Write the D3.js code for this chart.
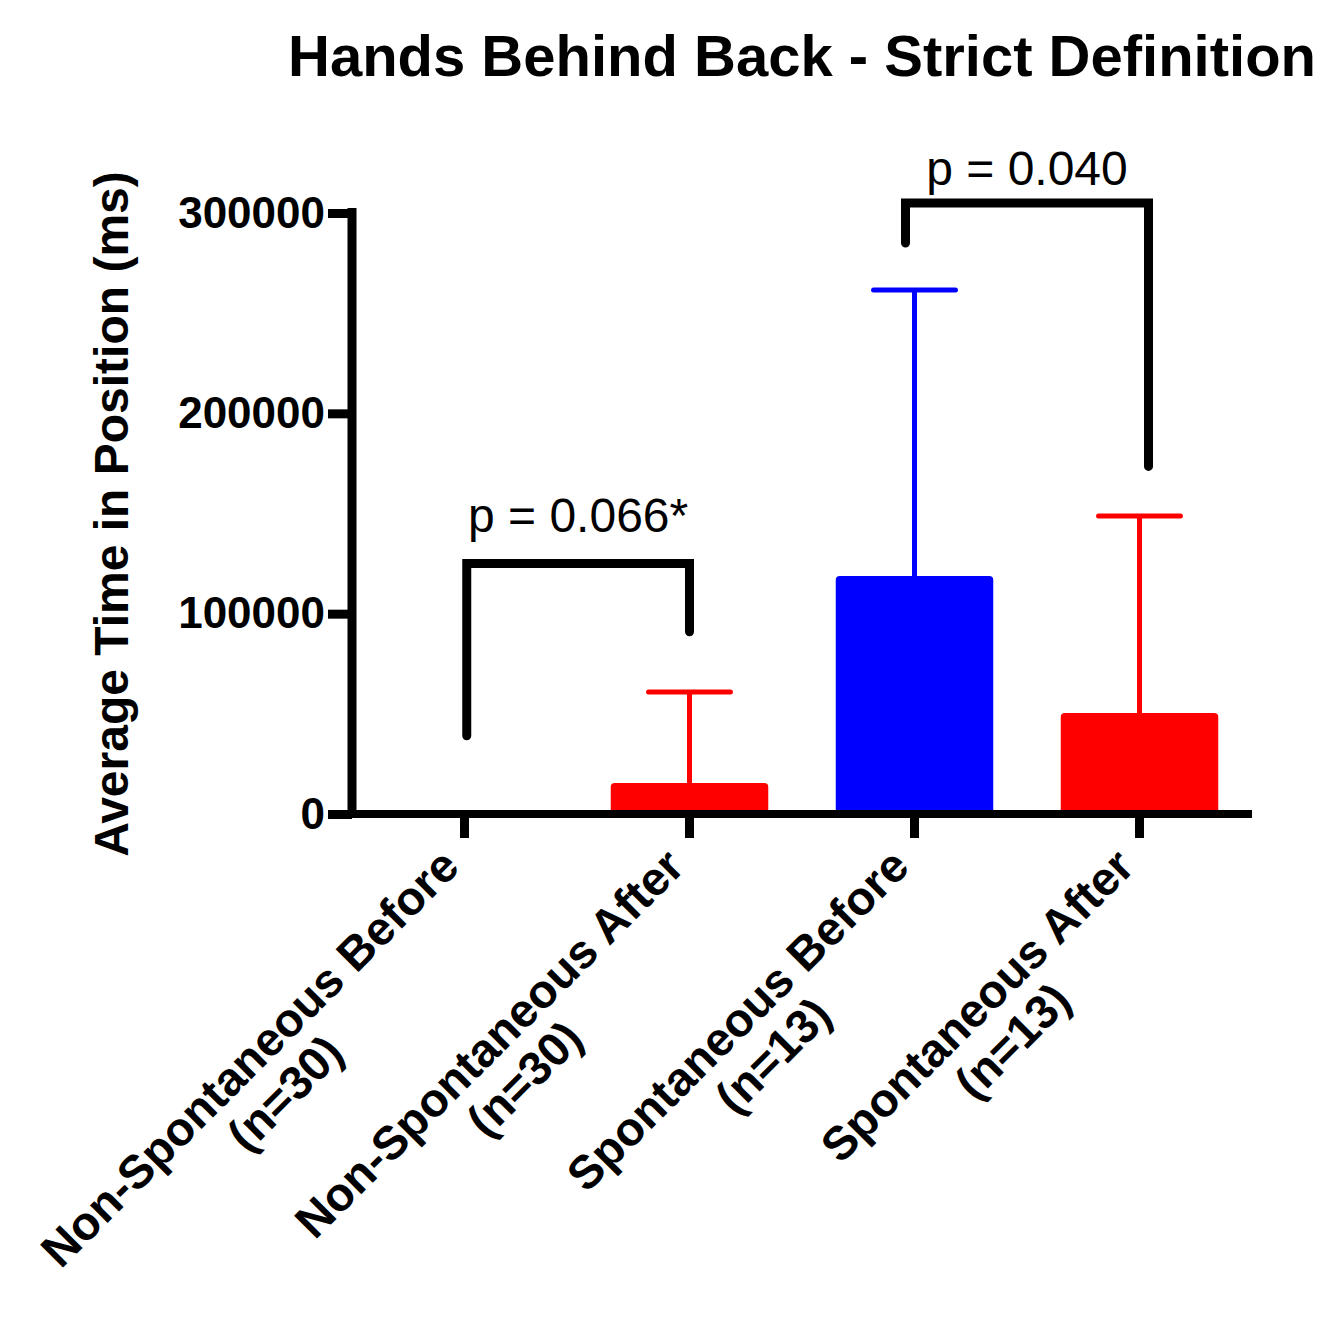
<!DOCTYPE html>
<html>
<head>
<meta charset="utf-8">
<script src="https://cdn.jsdelivr.net/npm/d3@7"></script>
<style>
  body { margin: 0; background: #fff; }
  text { font-family: "Liberation Sans", Arial, Helvetica, sans-serif; }
</style>
</head>
<body>
<script>
// Groups, means and error (SEM)
var groups = ["Non-Spontaneous Before", "Non-Spontaneous After", "Spontaneous Before", "Spontaneous After"];
var groupN = ["(n=30)", "(n=30)", "(n=13)", "(n=13)"];
var means = [0, 15500, 118800, 50400];
var errors = [0, 45400, 142800, 98400];
var barColors = ["#ff0000", "#ff0000", "#0000ff", "#ff0000"];
var yTicks = [0, 100000, 200000, 300000];

// Significance brackets: from/to as group index (fractional), heights in data units
var brackets = [
    { from: 0.01, to: 1.0, top: 125000, leftEnd: 39000, rightEnd: 91000, labelAt: 140800, label: "p = 0.066*" },
    { from: 1.96, to: 3.04, top: 305000, leftEnd: 285000, rightEnd: 173500, labelAt: 314000, label: "p = 0.040" }
];

var width = 1342, height = 1334;
var svg = d3.select("body").append("svg")
    .attr("width", width)
    .attr("height", height);

var x = d3.scaleBand().domain(groups).range([352, 1252]).padding(0);
var xi = d3.scaleLinear().domain([0, 3]).range([x(groups[0]) + x.bandwidth() / 2, x(groups[3]) + x.bandwidth() / 2]);
var y = d3.scaleLinear().domain([0, 300000]).range([814, 213]);

var barW = x.bandwidth() * 0.70;
var capW = barW * 0.52;

// Title
svg.append("text")
    .attr("x", 802)
    .attr("y", 76)
    .attr("text-anchor", "middle")
    .attr("font-size", 58)
    .attr("font-weight", "bold")
    .text("Hands Behind Back - Strict Definition");

// Y axis label
svg.append("text")
    .attr("transform", "translate(128,514) rotate(-90)")
    .attr("text-anchor", "middle")
    .attr("font-size", 48)
    .attr("font-weight", "bold")
    .text("Average Time in Position (ms)");

// Error bars (drawn first so bar covers stem bottom)
var err = svg.selectAll(".err")
    .data(groups.filter(function(d, i){ return errors[i] > 0; }))
    .enter()
    .append("g")
    .attr("class", "err");

err.append("line")
    .attr("x1", function(d){ return x(d) + x.bandwidth() / 2; })
    .attr("x2", function(d){ return x(d) + x.bandwidth() / 2; })
    .attr("y1", function(d){ var i = groups.indexOf(d); return y(means[i]); })
    .attr("y2", function(d){ var i = groups.indexOf(d); return y(means[i] + errors[i]); })
    .attr("stroke", function(d){ return barColors[groups.indexOf(d)]; })
    .attr("stroke-width", 5);

err.append("line")
    .attr("x1", function(d){ return x(d) + x.bandwidth() / 2 - capW / 2; })
    .attr("x2", function(d){ return x(d) + x.bandwidth() / 2 + capW / 2; })
    .attr("y1", function(d){ var i = groups.indexOf(d); return y(means[i] + errors[i]); })
    .attr("y2", function(d){ var i = groups.indexOf(d); return y(means[i] + errors[i]); })
    .attr("stroke", function(d){ return barColors[groups.indexOf(d)]; })
    .attr("stroke-width", 5)
    .attr("stroke-linecap", "round");

// Bars
svg.selectAll(".bar")
    .data(groups)
    .enter()
    .append("rect")
    .attr("class", "bar")
    .attr("x", function(d){ return x(d) + (x.bandwidth() - barW) / 2; })
    .attr("width", barW)
    .attr("y", function(d, i){ return y(means[i]); })
    .attr("height", function(d, i){ return Math.max(0, y(0) - y(means[i]) + 2); })
    .attr("rx", 4)
    .attr("fill", function(d, i){ return barColors[i]; });

// Y axis
var yAxis = svg.append("g")
    .attr("transform", "translate(352,0)")
    .call(d3.axisLeft(y).tickValues(yTicks).tickSize(24).tickPadding(3).tickFormat(d3.format("d")));
yAxis.select(".domain").remove();
yAxis.selectAll(".tick line").attr("stroke", "#000").attr("stroke-width", 9);
yAxis.selectAll(".tick text")
    .attr("font-size", 44)
    .attr("font-weight", "bold")
    .attr("fill", "#000")
    .attr("font-family", "Liberation Sans, Arial, sans-serif");
svg.append("line")
    .attr("x1", 352).attr("x2", 352)
    .attr("y1", y(300000) - 5).attr("y2", y(0) + 4)
    .attr("stroke", "#000").attr("stroke-width", 9);

// X axis
var xAxis = svg.append("g")
    .attr("transform", "translate(0," + y(0) + ")")
    .call(d3.axisBottom(x).tickSize(24).tickFormat(""));
xAxis.select(".domain").remove();
xAxis.selectAll(".tick line").attr("stroke", "#000").attr("stroke-width", 9);
svg.append("line")
    .attr("x1", 328).attr("x2", 1252)
    .attr("y1", y(0)).attr("y2", y(0))
    .attr("stroke", "#000").attr("stroke-width", 8);

// Category labels, rotated -45
var labels = svg.selectAll(".cat")
    .data(groups)
    .enter()
    .append("g")
    .attr("class", "cat")
    .attr("transform", function(d){ return "translate(" + (x(d) + x.bandwidth() / 2 - 3) + "," + (y(0) + 55) + ") rotate(-45)"; });

labels.append("text")
    .attr("class", "line1")
    .attr("text-anchor", "end")
    .attr("font-size", 47)
    .attr("font-weight", "bold")
    .text(function(d){ return d; });

labels.append("text")
    .attr("text-anchor", "middle")
    .attr("font-size", 47)
    .attr("font-weight", "bold")
    .attr("y", 50)
    .attr("x", function(){
        var l1 = d3.select(this.parentNode).select(".line1").node().getComputedTextLength();
        return -l1 / 2;
    })
    .text(function(d, i){ return groupN[i]; });

// Significance brackets
var br = svg.selectAll(".bracket")
    .data(brackets)
    .enter()
    .append("g")
    .attr("class", "bracket");

br.append("path")
    .attr("d", function(d){
        return "M" + xi(d.from) + "," + y(d.leftEnd) +
            "V" + y(d.top) + "H" + xi(d.to) + "V" + y(d.rightEnd);
    })
    .attr("fill", "none")
    .attr("stroke", "#000")
    .attr("stroke-width", 9)
    .attr("stroke-linecap", "round")
    .attr("stroke-linejoin", "miter");

br.append("text")
    .attr("x", function(d){ return (xi(d.from) + xi(d.to)) / 2; })
    .attr("y", function(d){ return y(d.labelAt); })
    .attr("text-anchor", "middle")
    .attr("font-size", 48)
    .text(function(d){ return d.label; });
</script>
</body>
</html>
